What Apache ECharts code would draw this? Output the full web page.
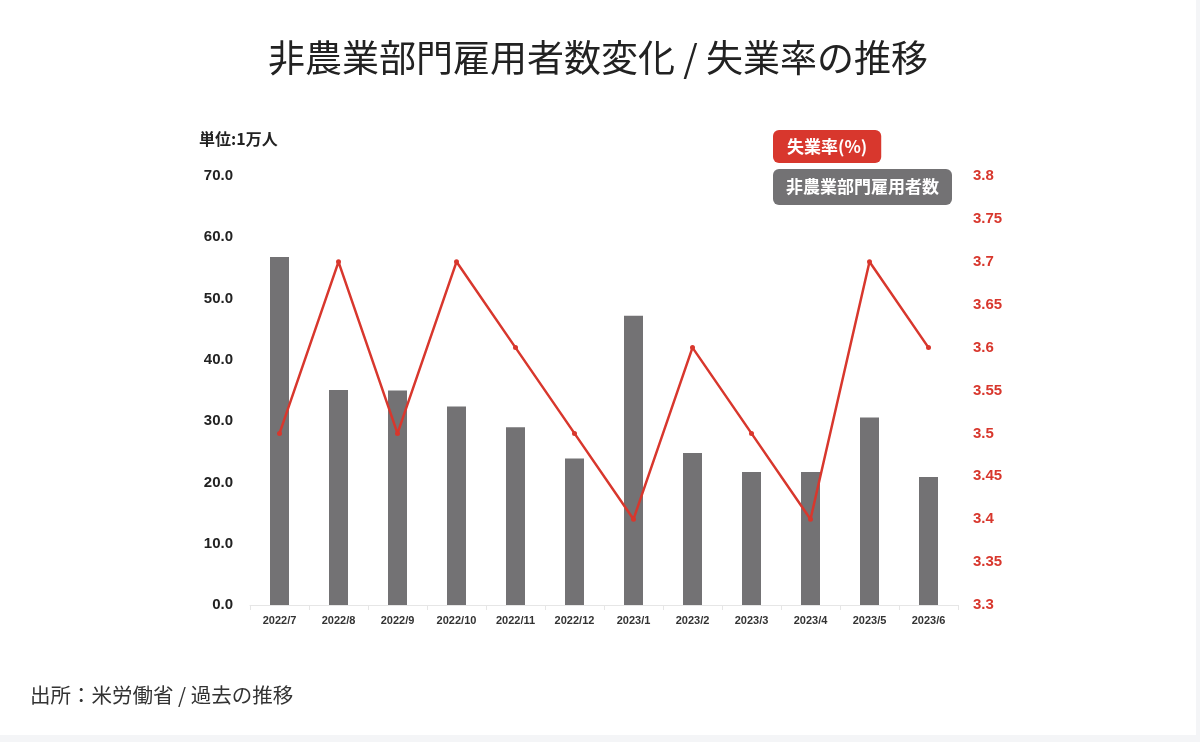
<!DOCTYPE html>
<html>
<head>
<meta charset="utf-8">
<script src="https://cdn.jsdelivr.net/npm/echarts@6/dist/echarts.min.js"></script>
<style>
  html, body { margin: 0; padding: 0; background: #f4f5f7; }
  #card { position: absolute; left: 0; top: 0; width: 1196px; height: 735px; background: #fff; }
  #main { width: 1196px; height: 735px; }
</style>
</head>
<body>
<div id="card"><div id="main"></div></div>
<script>
// 月
var months = ['2022/7', '2022/8', '2022/9', '2022/10', '2022/11', '2022/12',
              '2023/1', '2023/2', '2023/3', '2023/4', '2023/5', '2023/6'];
// 非農業部門雇用者数変化 (万人)
var payrolls = [56.8, 35.1, 35.0, 32.4, 29.0, 23.9, 47.2, 24.8, 21.7, 21.7, 30.6, 20.9];
// 失業率 (%)
var unemployment = [3.5, 3.7, 3.5, 3.7, 3.6, 3.5, 3.4, 3.6, 3.5, 3.4, 3.7, 3.6];

var RED = '#d8372d';
var GRAY = '#737274';
var CJK = '"Noto Sans CJK JP", "Noto Sans", sans-serif';
var LAT = '"Liberation Sans", Arial, sans-serif';

var chart = echarts.init(document.getElementById('main'));

chart.setOption({
    animation: false,
    title: [
        {text: '非農業部門雇用者数変化 / 失業率の推移', left: 'center', top: 34,
         textStyle: {fontFamily: CJK, fontSize: 37, fontWeight: 'normal', color: '#222'}},
        {text: '単位:1万人', left: 194, top: 126,
         textStyle: {fontFamily: CJK, fontSize: 16, fontWeight: 'bold', color: '#222'}},
        {text: '出所：米労働省 / 過去の推移', left: 25, top: 680,
         textStyle: {fontFamily: CJK, fontSize: 20.5, fontWeight: 'normal', color: '#333'}}
    ],
    legend: {
        orient: 'vertical',
        left: 768,
        top: 130,
        padding: 0,
        itemWidth: 0,
        itemHeight: 0,
        itemGap: 6,
        selectedMode: false,
        data: [
            {name: '失業率(%)', icon: 'none',
             textStyle: {backgroundColor: RED, color: '#fff', borderRadius: 6,
                         padding: [8, 14, 8, 14], fontFamily: CJK, fontSize: 17, fontWeight: 'bold'}},
            {name: '非農業部門雇用者数', icon: 'none',
             textStyle: {backgroundColor: GRAY, color: '#fff', borderRadius: 6,
                         padding: [10, 13, 9, 13], fontFamily: CJK, fontSize: 17, fontWeight: 'bold'}}
        ]
    },
    grid: {left: 250, right: 238, top: 176, bottom: 130},
    xAxis: {
        type: 'category',
        data: months,
        axisLine: {lineStyle: {color: '#e6e6e6'}},
        axisTick: {show: true, lineStyle: {color: '#e6e6e6'}},
        axisLabel: {fontFamily: LAT, fontSize: 11, fontWeight: 'bold', color: '#333', margin: 10}
    },
    yAxis: [
        {type: 'value', min: 0, max: 70, interval: 10,
         splitLine: {show: false},
         axisLine: {show: false}, axisTick: {show: false},
         axisLabel: {fontFamily: LAT, fontSize: 15, fontWeight: 'bold', color: '#222', margin: 17,
                     formatter: function (v) { return v.toFixed(1); }}},
        {type: 'value', min: 3.3, max: 3.8, interval: 0.05,
         splitLine: {show: false},
         axisLine: {show: false}, axisTick: {show: false},
         axisLabel: {fontFamily: LAT, fontSize: 15, fontWeight: 'bold', color: RED, margin: 15,
                     formatter: function (v) { return String(+v.toFixed(2)); }}}
    ],
    series: [
        {name: '非農業部門雇用者数', type: 'bar', yAxisIndex: 0, data: payrolls,
         barWidth: 19, itemStyle: {color: GRAY}},
        {name: '失業率(%)', type: 'line', yAxisIndex: 1, data: unemployment,
         symbol: 'circle', symbolSize: 5,
         lineStyle: {color: RED, width: 2.5}, itemStyle: {color: RED}}
    ]
});
</script>
</body>
</html>
